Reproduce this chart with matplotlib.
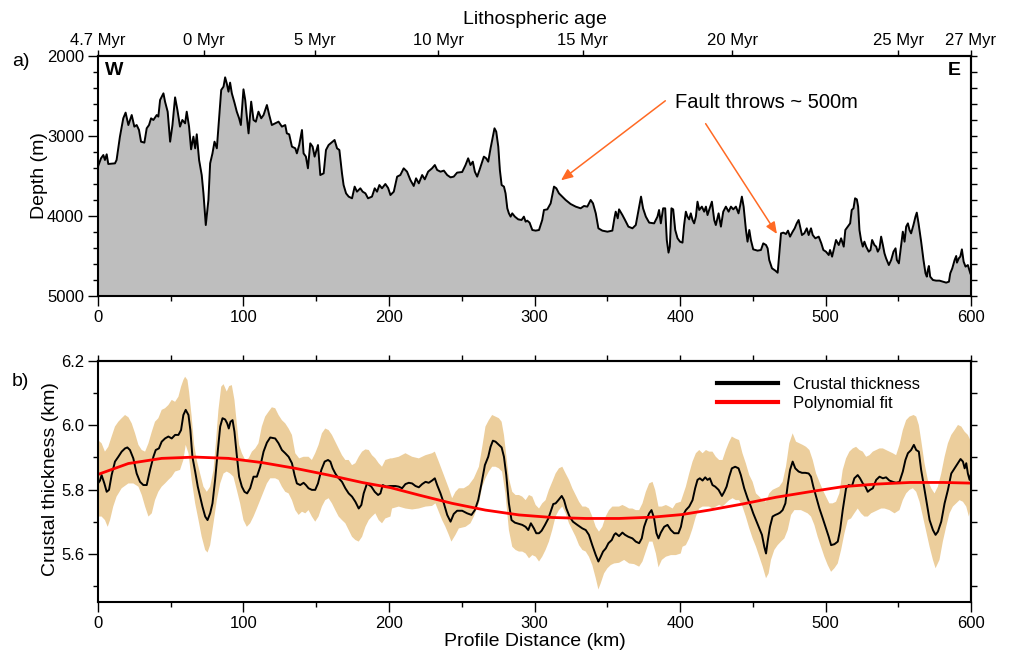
import numpy as np
import matplotlib
matplotlib.use("Agg")
import matplotlib.pyplot as plt
from matplotlib.ticker import MultipleLocator, FormatStrFormatter
from matplotlib.patches import FancyArrowPatch

plt.rcParams["font.family"] = ["Liberation Sans", "DejaVu Sans"]

# seafloor depth along the profile: (distance km, depth m)
depth_profile = [
    (0.0, 3383), (2.1, 3279), (3.7, 3238), (4.8, 3300), (6.0, 3229), (7.1, 3350), (11.7, 3342),
    (12.8, 3300), (15.1, 3008), (17.4, 2779), (19.0, 2708), (20.9, 2863), (23.2, 2738), (25.0, 2883),
    (26.6, 2863), (28.2, 2925), (29.6, 3071), (31.9, 3083), (33.5, 2904), (35.1, 2863), (36.5, 2779),
    (38.1, 2800), (40.4, 2738), (41.5, 2758), (42.7, 2550), (45.0, 2467), (46.1, 2571), (47.9, 2696),
    (49.6, 3071), (51.2, 2863), (53.0, 2517), (54.6, 2675), (56.4, 2883), (58.0, 2800), (59.9, 2842),
    (61.0, 2696), (62.6, 2883), (64.0, 3167), (65.6, 3008), (66.8, 3154), (67.9, 2979), (69.5, 3300),
    (71.3, 3488), (72.5, 3717), (74.1, 4113), (75.9, 3800), (77.1, 3342), (78.7, 3217), (80.1, 3071),
    (81.7, 3154), (83.3, 2758), (84.7, 2425), (86.3, 2383), (87.4, 2267), (88.5, 2342), (89.7, 2446),
    (90.8, 2333), (92.0, 2467), (93.8, 2583), (95.4, 2696), (97.0, 2779), (98.2, 2863), (100.0, 2417),
    (101.2, 2550), (102.3, 2758), (103.5, 2967), (105.3, 2571), (106.9, 2800), (108.5, 2821), (110.3, 2696),
    (112.2, 2779), (113.8, 2738), (116.1, 2613), (117.7, 2738), (119.5, 2863), (121.8, 2842), (124.1, 2821),
    (126.4, 2883), (128.7, 2863), (129.8, 2967), (131.4, 2979), (133.3, 3133), (135.6, 3154), (136.7, 3217),
    (138.3, 3113), (140.2, 2925), (141.3, 3217), (142.9, 3258), (144.3, 3404), (145.9, 3092), (147.5, 3133),
    (148.9, 3258), (151.2, 3113), (152.8, 3488), (155.1, 3467), (156.7, 3175), (158.5, 3113), (161.3, 3071),
    (162.6, 3050), (164.3, 3154), (165.9, 3175), (167.7, 3467), (168.8, 3613), (170.5, 3717), (172.3, 3758),
    (174.6, 3779), (176.4, 3633), (178.0, 3696), (180.3, 3654), (181.9, 3696), (183.8, 3717), (185.6, 3779),
    (188.3, 3758), (190.2, 3654), (191.8, 3696), (193.4, 3613), (195.2, 3654), (197.5, 3600), (199.4, 3650),
    (201.0, 3738), (203.3, 3696), (205.6, 3508), (207.8, 3488), (210.1, 3404), (212.4, 3446), (214.7, 3550),
    (217.0, 3625), (218.6, 3529), (220.5, 3592), (222.8, 3488), (224.6, 3542), (226.9, 3446), (229.6, 3404),
    (231.5, 3363), (233.1, 3425), (235.4, 3446), (237.7, 3433), (240.0, 3488), (242.3, 3517), (244.5, 3508),
    (246.8, 3458), (250.3, 3450), (252.6, 3363), (254.4, 3279), (256.0, 3363), (257.6, 3321), (259.0, 3446),
    (260.6, 3508), (262.2, 3425), (264.1, 3321), (265.2, 3258), (266.8, 3279), (268.2, 3321), (269.8, 3154),
    (271.4, 3008), (272.5, 2904), (273.7, 2946), (275.1, 3133), (276.2, 3425), (277.4, 3613), (279.0, 3633),
    (280.1, 3717), (281.3, 3904), (282.4, 3967), (283.6, 4008), (284.7, 3967), (286.5, 4008), (288.8, 4042),
    (291.1, 4050), (292.7, 4008), (293.9, 4071), (295.0, 4058), (296.6, 4083), (298.5, 4175), (300.8, 4183),
    (303.1, 4175), (305.3, 4050), (306.5, 3925), (308.8, 3917), (311.1, 3842), (313.4, 3633), (315.0, 3654),
    (316.8, 3717), (319.1, 3758), (321.4, 3800), (324.8, 3850), (328.3, 3883), (331.7, 3904), (334.0, 3875),
    (336.3, 3883), (338.6, 3800), (340.2, 3842), (342.1, 3967), (343.9, 4154), (346.6, 4183), (350.1, 4196),
    (353.5, 4183), (354.9, 4029), (355.8, 3946), (357.2, 4029), (358.1, 3917), (360.4, 3988), (362.2, 4050),
    (364.5, 4133), (367.3, 4154), (369.6, 4113), (371.9, 3883), (373.2, 3758), (374.6, 3904), (376.5, 4008),
    (378.8, 4083), (382.2, 4092), (384.5, 4008), (385.6, 3925), (386.8, 4092), (388.4, 3904), (389.8, 3904),
    (390.9, 4300), (392.1, 4458), (393.0, 4383), (394.1, 3904), (395.3, 3917), (396.7, 4175), (398.3, 4279),
    (400.0, 4321), (401.7, 4333), (402.8, 4113), (404.0, 3946), (405.1, 4008), (406.3, 4042), (407.4, 3967),
    (408.6, 4050), (409.7, 4092), (410.9, 4008), (412.0, 3821), (413.2, 3925), (415.0, 3883), (416.6, 3946),
    (417.8, 3883), (418.9, 3988), (420.0, 3925), (421.9, 3821), (423.5, 4050), (424.6, 4113), (426.5, 3967),
    (428.1, 4133), (429.7, 3946), (431.5, 3883), (433.4, 3946), (435.0, 3883), (436.6, 3917), (438.4, 3883),
    (440.2, 3967), (441.4, 3863), (442.5, 3758), (443.7, 3883), (445.3, 4175), (446.4, 4321), (447.6, 4175),
    (448.7, 4300), (450.3, 4417), (453.3, 4433), (455.6, 4425), (457.2, 4342), (459.1, 4363), (460.2, 4404),
    (461.3, 4550), (463.2, 4654), (465.5, 4683), (467.1, 4709), (468.2, 4467), (469.4, 4217), (471.0, 4208),
    (472.8, 4225), (474.2, 4183), (475.6, 4258), (477.4, 4196), (478.8, 4154), (480.2, 4092), (481.5, 4050),
    (482.5, 4133), (483.8, 4238), (485.4, 4217), (487.1, 4154), (488.4, 4238), (490.0, 4154), (491.2, 4238),
    (493.0, 4279), (495.3, 4258), (497.1, 4342), (498.5, 4425), (500.3, 4446), (502.2, 4488), (503.1, 4425),
    (504.5, 4508), (506.1, 4383), (507.2, 4300), (509.1, 4363), (510.7, 4279), (512.5, 4383), (513.6, 4175),
    (515.3, 4133), (516.9, 4092), (518.0, 3925), (519.2, 3904), (520.3, 3779), (521.5, 3792), (522.4, 3883),
    (523.3, 4175), (524.4, 4300), (525.6, 4383), (526.7, 4321), (527.9, 4383), (529.7, 4446), (530.9, 4425),
    (532.0, 4300), (533.6, 4363), (534.8, 4383), (535.9, 4446), (537.1, 4404), (538.2, 4258), (539.4, 4363),
    (540.5, 4467), (541.6, 4529), (543.5, 4613), (545.1, 4550), (546.7, 4446), (548.1, 4404), (549.0, 4550),
    (550.4, 4592), (552.0, 4363), (553.1, 4196), (554.3, 4321), (555.4, 4133), (556.6, 4092), (557.7, 4175),
    (558.8, 4217), (560.4, 4113), (561.8, 4008), (562.7, 3958), (563.9, 4092), (565.7, 4321), (567.3, 4550),
    (568.7, 4717), (569.6, 4758), (570.3, 4675), (571.0, 4625), (571.9, 4758), (573.8, 4800), (576.0, 4808),
    (578.3, 4808), (580.6, 4821), (582.9, 4833), (584.8, 4821), (585.7, 4717), (587.1, 4654), (588.7, 4550),
    (589.8, 4500), (590.3, 4583), (591.6, 4529), (592.6, 4508), (593.7, 4417), (594.9, 4571), (596.2, 4633),
    (597.8, 4613), (599.5, 4717), (600.0, 4738),
]

# crustal thickness along the profile: (distance km, thickness km)
thickness = [
    (0.0, 5.819), (1.4, 5.828), (2.5, 5.845), (4.4, 5.819), (6.0, 5.793), (7.6, 5.799), (9.4, 5.845),
    (11.7, 5.887), (14.0, 5.902), (16.3, 5.918), (18.6, 5.928), (20.2, 5.931), (22.0, 5.923), (24.3, 5.897),
    (26.6, 5.850), (28.9, 5.824), (31.2, 5.814), (33.5, 5.814), (35.8, 5.861), (38.1, 5.902), (39.7, 5.923),
    (41.9, 5.928), (43.8, 5.949), (46.1, 5.959), (48.4, 5.965), (50.7, 5.959), (53.0, 5.970), (55.3, 5.970),
    (57.1, 5.985), (58.7, 6.032), (60.3, 6.048), (62.2, 6.032), (63.5, 5.985), (64.9, 5.902), (66.8, 5.856),
    (68.6, 5.809), (70.2, 5.778), (71.8, 5.747), (73.7, 5.716), (75.3, 5.705), (77.1, 5.726), (78.7, 5.757),
    (80.5, 5.830), (82.4, 5.923), (84.0, 5.996), (85.6, 6.022), (87.4, 6.018), (88.8, 6.006), (89.9, 5.990),
    (91.1, 6.011), (92.5, 6.016), (93.8, 5.980), (95.4, 5.907), (97.0, 5.840), (98.9, 5.809), (100.7, 5.793),
    (102.5, 5.788), (104.6, 5.804), (106.9, 5.840), (109.2, 5.840), (111.5, 5.871), (113.8, 5.918),
    (116.1, 5.946), (118.4, 5.962), (121.8, 5.959), (124.1, 5.944), (126.4, 5.923), (128.7, 5.913),
    (131.0, 5.902), (133.3, 5.882), (135.1, 5.845), (136.7, 5.819), (139.0, 5.814), (141.3, 5.821),
    (142.9, 5.814), (144.7, 5.804), (147.0, 5.799), (149.3, 5.799), (151.2, 5.819), (153.5, 5.861),
    (155.8, 5.887), (158.1, 5.892), (159.7, 5.887), (161.3, 5.866), (163.1, 5.850), (164.9, 5.838),
    (167.7, 5.824), (170.0, 5.804), (172.3, 5.788), (174.6, 5.778), (176.9, 5.762), (179.2, 5.741),
    (181.0, 5.752), (182.6, 5.788), (184.9, 5.819), (187.9, 5.809), (190.2, 5.793), (192.5, 5.783),
    (194.1, 5.788), (195.7, 5.814), (198.0, 5.809), (201.0, 5.811), (204.4, 5.811), (206.7, 5.809),
    (209.0, 5.804), (211.3, 5.817), (213.6, 5.821), (215.9, 5.819), (218.2, 5.811), (220.5, 5.807),
    (222.8, 5.817), (225.1, 5.824), (227.3, 5.821), (229.6, 5.828), (231.5, 5.835), (233.1, 5.814),
    (235.4, 5.788), (237.7, 5.757), (240.0, 5.721), (242.3, 5.700), (244.5, 5.724), (246.8, 5.734),
    (250.3, 5.734), (253.7, 5.726), (256.7, 5.721), (259.0, 5.736), (261.3, 5.767), (263.6, 5.819),
    (265.9, 5.876), (268.2, 5.902), (269.8, 5.933), (271.4, 5.952), (273.2, 5.949), (275.5, 5.939),
    (277.4, 5.931), (279.0, 5.902), (280.6, 5.845), (282.4, 5.757), (284.2, 5.705), (286.5, 5.697),
    (289.3, 5.693), (291.6, 5.690), (293.9, 5.684), (295.7, 5.674), (297.5, 5.695), (299.6, 5.679),
    (301.2, 5.664), (303.1, 5.664), (304.9, 5.672), (307.2, 5.690), (309.5, 5.710), (311.1, 5.731),
    (312.9, 5.755), (314.5, 5.757), (316.4, 5.767), (318.7, 5.780), (320.3, 5.767), (321.9, 5.741),
    (324.1, 5.716), (326.4, 5.700), (329.4, 5.690), (332.9, 5.679), (335.2, 5.674), (337.4, 5.659),
    (339.7, 5.627), (342.1, 5.596), (343.9, 5.576), (345.5, 5.591), (347.1, 5.607), (349.0, 5.617),
    (350.8, 5.633), (353.1, 5.643), (354.7, 5.659), (355.8, 5.664), (358.1, 5.655), (360.4, 5.666),
    (362.2, 5.659), (364.5, 5.653), (367.3, 5.648), (369.6, 5.638), (371.9, 5.633), (373.7, 5.648),
    (375.3, 5.684), (376.9, 5.705), (378.8, 5.726), (380.4, 5.736), (382.2, 5.710), (383.8, 5.664),
    (385.2, 5.648), (386.8, 5.666), (389.1, 5.684), (391.4, 5.690), (393.7, 5.674), (396.0, 5.664),
    (398.9, 5.664), (400.6, 5.684), (402.2, 5.721), (404.0, 5.736), (406.3, 5.747), (408.6, 5.767),
    (410.4, 5.804), (412.0, 5.830), (413.6, 5.835), (415.5, 5.828), (417.3, 5.838), (418.9, 5.830),
    (420.5, 5.835), (422.3, 5.814), (424.2, 5.809), (426.5, 5.799), (428.8, 5.780), (430.4, 5.793),
    (432.0, 5.809), (433.8, 5.840), (435.6, 5.866), (437.9, 5.871), (440.2, 5.866), (441.8, 5.845),
    (444.1, 5.804), (446.4, 5.773), (448.7, 5.747), (450.3, 5.726), (452.2, 5.705), (454.5, 5.679),
    (456.3, 5.659), (457.9, 5.622), (459.1, 5.601), (460.2, 5.638), (461.8, 5.684), (463.6, 5.716),
    (465.5, 5.721), (467.1, 5.724), (468.7, 5.728), (470.5, 5.736), (472.4, 5.757), (474.0, 5.814),
    (475.6, 5.861), (477.4, 5.887), (479.2, 5.866), (481.5, 5.856), (483.8, 5.852), (486.1, 5.852),
    (488.4, 5.850), (490.0, 5.840), (491.6, 5.809), (493.5, 5.778), (495.8, 5.741), (498.1, 5.710),
    (500.3, 5.679), (502.2, 5.653), (503.8, 5.627), (506.1, 5.630), (508.4, 5.638), (510.0, 5.674),
    (511.8, 5.736), (514.1, 5.804), (515.9, 5.814), (518.2, 5.811), (519.8, 5.835), (522.1, 5.845),
    (523.7, 5.835), (525.6, 5.819), (527.4, 5.809), (529.0, 5.793), (530.6, 5.799), (532.5, 5.804),
    (534.8, 5.830), (537.1, 5.840), (539.4, 5.835), (541.6, 5.838), (543.9, 5.828), (546.2, 5.824),
    (548.5, 5.821), (550.8, 5.824), (553.1, 5.856), (554.9, 5.892), (556.6, 5.913), (558.8, 5.923),
    (560.7, 5.939), (562.3, 5.923), (564.1, 5.918), (565.7, 5.861), (567.3, 5.819), (569.2, 5.767),
    (571.5, 5.705), (573.8, 5.674), (575.6, 5.659), (577.2, 5.669), (579.5, 5.700), (581.8, 5.757),
    (584.1, 5.799), (586.4, 5.850), (588.7, 5.866), (591.0, 5.882), (592.8, 5.895), (594.4, 5.887),
    (595.6, 5.866), (596.7, 5.882), (597.8, 5.850), (599.0, 5.830), (600.0, 5.850),
]

# upper and lower edges of the thickness uncertainty band
band_upper = [
    (0.0, 5.954), (2.5, 5.944), (4.8, 5.918), (7.1, 5.933), (9.4, 5.965), (11.7, 5.996), (14.0, 6.011),
    (16.3, 6.022), (18.6, 6.032), (20.9, 6.025), (23.2, 6.006), (25.5, 5.975), (27.8, 5.939), (30.1, 5.923),
    (32.4, 5.918), (34.7, 5.944), (37.0, 5.980), (39.2, 6.011), (41.5, 6.022), (43.8, 6.048), (46.1, 6.053),
    (48.4, 6.063), (50.7, 6.079), (53.0, 6.073), (55.3, 6.089), (57.1, 6.120), (58.7, 6.141), (59.9, 6.151),
    (61.5, 6.141), (62.6, 6.105), (64.4, 6.027), (66.1, 5.939), (67.9, 5.892), (70.2, 5.850), (72.5, 5.809),
    (74.8, 5.793), (77.1, 5.809), (79.4, 5.861), (81.0, 5.944), (82.8, 6.048), (84.7, 6.120), (86.3, 6.128),
    (88.5, 6.105), (90.2, 6.122), (92.0, 6.125), (93.8, 6.079), (95.4, 6.006), (97.0, 5.939), (98.9, 5.913),
    (101.2, 5.892), (103.5, 5.897), (105.8, 5.918), (108.1, 5.928), (110.3, 5.944), (112.6, 5.996),
    (114.9, 6.027), (117.2, 6.042), (119.5, 6.056), (121.8, 6.053), (124.1, 6.032), (126.4, 6.016),
    (128.7, 6.006), (131.0, 5.990), (133.3, 5.970), (135.6, 5.913), (138.3, 5.897), (141.3, 5.902),
    (144.7, 5.902), (147.0, 5.892), (149.3, 5.913), (151.6, 5.939), (153.9, 5.975), (156.2, 5.990),
    (158.5, 5.985), (160.8, 5.970), (163.1, 5.949), (165.4, 5.928), (167.7, 5.907), (170.0, 5.892),
    (172.3, 5.892), (174.6, 5.876), (176.9, 5.882), (179.2, 5.902), (181.5, 5.918), (183.8, 5.925),
    (186.1, 5.923), (188.3, 5.907), (190.6, 5.897), (192.9, 5.882), (195.2, 5.871), (197.5, 5.892),
    (201.0, 5.897), (202.1, 5.897), (206.7, 5.902), (211.3, 5.913), (215.9, 5.902), (220.5, 5.897),
    (225.1, 5.907), (229.6, 5.913), (231.5, 5.918), (234.2, 5.887), (237.7, 5.845), (241.1, 5.804),
    (243.4, 5.773), (245.7, 5.793), (248.0, 5.804), (251.4, 5.804), (254.9, 5.814), (258.3, 5.835),
    (261.8, 5.871), (264.1, 5.933), (266.3, 5.996), (268.6, 6.016), (270.9, 6.032), (273.2, 6.027),
    (275.5, 6.022), (277.4, 6.011), (279.0, 5.970), (280.6, 5.907), (282.4, 5.835), (284.7, 5.793),
    (287.0, 5.783), (289.3, 5.783), (291.6, 5.778), (293.9, 5.767), (296.2, 5.783), (298.5, 5.778),
    (300.8, 5.752), (303.1, 5.741), (305.3, 5.757), (307.6, 5.767), (309.9, 5.799), (312.2, 5.824),
    (314.5, 5.850), (316.8, 5.866), (319.1, 5.871), (321.4, 5.850), (323.7, 5.830), (326.0, 5.804),
    (328.3, 5.783), (330.6, 5.762), (332.9, 5.747), (335.2, 5.747), (337.4, 5.741), (339.7, 5.716),
    (342.1, 5.684), (344.3, 5.669), (346.6, 5.684), (348.9, 5.716), (351.2, 5.736), (353.5, 5.747),
    (355.8, 5.747), (358.1, 5.747), (360.4, 5.752), (362.7, 5.747), (365.0, 5.741), (367.3, 5.741),
    (369.6, 5.736), (371.9, 5.736), (374.2, 5.757), (376.5, 5.793), (378.8, 5.819), (381.1, 5.824),
    (382.9, 5.799), (385.2, 5.747), (387.5, 5.747), (390.3, 5.752), (392.6, 5.747), (394.9, 5.741),
    (397.1, 5.757), (400.5, 5.762), (401.7, 5.778), (404.0, 5.809), (406.3, 5.850), (408.6, 5.887),
    (410.9, 5.913), (413.2, 5.923), (415.5, 5.913), (417.8, 5.923), (420.0, 5.918), (422.3, 5.918),
    (424.6, 5.902), (426.9, 5.892), (429.2, 5.892), (431.5, 5.923), (433.8, 5.949), (435.6, 5.965),
    (437.9, 5.959), (440.6, 5.954), (442.9, 5.913), (445.2, 5.882), (447.6, 5.845), (449.9, 5.824),
    (452.2, 5.788), (454.5, 5.778), (456.8, 5.767), (459.1, 5.762), (461.3, 5.788), (463.6, 5.799),
    (465.9, 5.804), (468.2, 5.809), (470.5, 5.824), (472.8, 5.871), (475.1, 5.944), (477.4, 5.975),
    (479.7, 5.949), (482.0, 5.944), (484.3, 5.939), (486.6, 5.933), (488.9, 5.923), (491.2, 5.892),
    (493.5, 5.850), (495.8, 5.824), (498.1, 5.799), (500.3, 5.778), (502.6, 5.757), (504.9, 5.757),
    (507.2, 5.762), (509.5, 5.788), (511.8, 5.861), (514.1, 5.897), (516.4, 5.918), (518.7, 5.928),
    (521.0, 5.933), (523.3, 5.923), (525.6, 5.918), (527.9, 5.902), (530.2, 5.907), (532.5, 5.918),
    (534.8, 5.923), (537.1, 5.928), (539.4, 5.928), (541.6, 5.923), (543.9, 5.918), (546.2, 5.913),
    (548.5, 5.907), (550.8, 5.939), (553.1, 5.985), (555.4, 6.016), (557.7, 6.027), (560.5, 6.032),
    (562.3, 6.027), (564.1, 6.001), (565.7, 5.954), (568.0, 5.882), (570.3, 5.830), (572.6, 5.804),
    (574.9, 5.788), (577.2, 5.809), (579.5, 5.850), (581.8, 5.902), (584.1, 5.944), (586.4, 5.970),
    (588.7, 5.985), (591.0, 6.001), (593.3, 5.996), (595.6, 5.980), (597.8, 5.970), (600.0, 5.949),
]

band_lower = [
    (0.0, 5.716), (2.5, 5.716), (4.8, 5.705), (6.7, 5.684), (8.3, 5.705), (10.5, 5.747), (12.8, 5.778),
    (16.3, 5.804), (20.9, 5.819), (24.3, 5.819), (27.8, 5.809), (30.1, 5.783), (32.4, 5.747), (34.7, 5.716),
    (37.0, 5.726), (39.2, 5.767), (41.5, 5.793), (43.8, 5.809), (46.1, 5.819), (48.4, 5.830), (50.7, 5.840),
    (53.0, 5.856), (56.4, 5.861), (58.7, 5.892), (60.3, 5.939), (62.2, 5.913), (64.4, 5.830), (66.8, 5.757),
    (69.1, 5.705), (71.3, 5.653), (73.7, 5.612), (75.3, 5.604), (77.1, 5.627), (79.4, 5.695), (81.7, 5.767),
    (84.0, 5.819), (86.3, 5.850), (88.5, 5.856), (90.8, 5.850), (93.1, 5.840), (95.4, 5.799), (97.7, 5.757),
    (100.0, 5.705), (102.3, 5.684), (104.6, 5.695), (106.9, 5.716), (109.2, 5.741), (111.5, 5.767),
    (113.8, 5.793), (116.1, 5.819), (118.4, 5.835), (121.8, 5.835), (124.1, 5.830), (126.4, 5.809),
    (128.7, 5.793), (131.0, 5.788), (133.3, 5.767), (135.6, 5.736), (137.9, 5.721), (140.2, 5.731),
    (142.5, 5.726), (144.7, 5.736), (147.0, 5.716), (149.3, 5.700), (151.6, 5.716), (153.9, 5.747),
    (156.2, 5.767), (158.5, 5.773), (160.8, 5.757), (163.1, 5.736), (165.4, 5.716), (167.7, 5.705),
    (170.0, 5.695), (172.3, 5.674), (174.6, 5.653), (176.9, 5.643), (179.2, 5.638), (181.5, 5.653),
    (183.8, 5.684), (186.1, 5.705), (188.3, 5.716), (190.6, 5.726), (192.9, 5.705), (195.2, 5.695),
    (197.5, 5.710), (201.0, 5.716), (202.1, 5.741), (206.7, 5.747), (211.3, 5.741), (215.9, 5.738),
    (220.5, 5.741), (225.1, 5.747), (229.6, 5.749), (231.9, 5.757), (234.2, 5.731), (236.5, 5.705),
    (238.8, 5.684), (241.1, 5.659), (242.9, 5.638), (245.7, 5.659), (248.0, 5.679), (252.6, 5.684),
    (256.0, 5.695), (258.3, 5.716), (261.8, 5.757), (264.1, 5.809), (266.3, 5.835), (268.6, 5.856),
    (270.9, 5.871), (273.2, 5.871), (275.5, 5.866), (277.7, 5.856), (280.0, 5.788), (282.4, 5.674),
    (284.7, 5.622), (287.0, 5.612), (289.3, 5.607), (291.6, 5.607), (293.9, 5.601), (296.2, 5.586),
    (298.5, 5.596), (300.8, 5.591), (303.1, 5.576), (305.3, 5.591), (307.6, 5.612), (309.9, 5.638),
    (312.2, 5.674), (314.5, 5.716), (316.8, 5.736), (319.1, 5.747), (321.4, 5.726), (323.7, 5.695),
    (326.0, 5.674), (328.3, 5.653), (330.6, 5.627), (332.9, 5.612), (335.2, 5.607), (337.4, 5.591),
    (339.7, 5.565), (342.1, 5.524), (343.9, 5.489), (345.5, 5.508), (347.8, 5.539), (350.1, 5.555),
    (352.4, 5.565), (354.7, 5.570), (358.1, 5.572), (361.6, 5.581), (365.0, 5.570), (368.4, 5.568),
    (371.9, 5.560), (374.2, 5.576), (376.5, 5.607), (378.8, 5.638), (381.1, 5.638), (383.4, 5.601),
    (385.2, 5.558), (387.5, 5.581), (390.3, 5.591), (393.7, 5.596), (397.1, 5.596), (400.5, 5.601),
    (401.7, 5.622), (404.0, 5.627), (406.3, 5.648), (408.6, 5.679), (410.9, 5.716), (413.2, 5.741),
    (415.5, 5.747), (417.8, 5.747), (420.0, 5.747), (422.3, 5.741), (424.6, 5.747), (426.9, 5.752),
    (429.2, 5.747), (431.5, 5.757), (433.8, 5.767), (436.1, 5.773), (438.4, 5.767), (440.6, 5.767),
    (442.9, 5.747), (445.2, 5.716), (447.6, 5.679), (449.9, 5.648), (452.2, 5.622), (454.5, 5.591),
    (456.8, 5.560), (459.1, 5.524), (460.9, 5.539), (462.5, 5.581), (464.8, 5.612), (467.1, 5.627),
    (469.4, 5.638), (471.7, 5.648), (474.0, 5.674), (476.3, 5.721), (478.6, 5.736), (480.9, 5.736),
    (483.1, 5.736), (485.4, 5.731), (487.7, 5.726), (490.0, 5.716), (492.3, 5.690), (494.6, 5.653),
    (496.9, 5.622), (499.2, 5.591), (501.5, 5.565), (503.8, 5.544), (506.1, 5.555), (508.4, 5.570),
    (510.7, 5.612), (513.0, 5.664), (515.3, 5.705), (517.5, 5.710), (519.8, 5.726), (522.1, 5.741),
    (524.4, 5.726), (526.7, 5.716), (529.0, 5.716), (531.3, 5.726), (533.6, 5.731), (535.9, 5.736),
    (538.2, 5.741), (540.5, 5.741), (543.9, 5.736), (547.4, 5.726), (550.8, 5.736), (553.1, 5.767),
    (555.4, 5.788), (557.7, 5.799), (560.0, 5.804), (562.3, 5.793), (564.6, 5.762), (566.9, 5.716),
    (569.2, 5.669), (571.5, 5.622), (573.8, 5.581), (575.6, 5.555), (578.3, 5.581), (580.6, 5.638),
    (582.9, 5.684), (585.2, 5.726), (587.5, 5.747), (589.8, 5.757), (592.1, 5.767), (594.4, 5.762),
    (596.7, 5.747), (598.5, 5.716), (600.0, 5.747),
]

# polynomial fit to the crustal thickness
poly_fit = [
    (0.0, 5.847), (20.9, 5.881), (43.8, 5.897), (66.8, 5.901), (89.7, 5.897), (112.6, 5.884),
    (135.6, 5.866), (158.5, 5.845), (181.5, 5.822), (201.0, 5.806), (220.4, 5.783), (243.4, 5.757),
    (266.3, 5.736), (289.3, 5.721), (312.2, 5.713), (335.2, 5.710), (358.1, 5.710), (381.0, 5.714),
    (401.0, 5.722), (420.0, 5.736), (443.0, 5.755), (466.0, 5.776), (489.0, 5.793), (512.0, 5.809),
    (535.0, 5.817), (558.0, 5.822), (581.0, 5.822), (600.0, 5.820),
]

# lithospheric age annotations along the top axis (distance km)
age_km = [0, 73, 149, 234, 333, 436, 550, 600]
age_labels = ["4.7 Myr", "0 Myr", "5 Myr", "10 Myr", "15 Myr", "20 Myr", "25 Myr", "27 Myr"]

d_km, d_m = np.array(depth_profile).T
t_km, t_val = np.array(thickness).T
u_km, u_val = np.array(band_upper).T
l_km, l_val = np.array(band_lower).T
f_km, f_val = np.array(poly_fit).T

TICK_FS = 12
LABEL_FS = 14
ORANGE = "#ff6a24"

fig = plt.figure(figsize=(10.13, 6.54), dpi=100)
ax1 = fig.add_axes([0.0967, 0.5474, 0.8619, 0.3670])
ax2 = fig.add_axes([0.0967, 0.0795, 0.8619, 0.3685])


def style_frame(ax):
    for sp in ax.spines.values():
        sp.set_linewidth(1.5)
    ax.tick_params(which="both", direction="out", width=1.0, labelsize=TICK_FS,
                   top=False, right=False)
    ax.tick_params(which="major", length=7, pad=3)
    ax.tick_params(which="minor", length=3.5)
    ax.xaxis.set_major_locator(MultipleLocator(100))
    ax.xaxis.set_minor_locator(MultipleLocator(50))
    ax.set_xlim(0, 600)


# --- a) bathymetry ---
style_frame(ax1)
ax1.fill_between(d_km, d_m, 5000, color="#bebebe", lw=0)
ax1.plot(d_km, d_m, color="black", lw=1.4)
ax1.set_ylim(5000, 2000)
ax1.yaxis.set_major_locator(MultipleLocator(1000))
ax1.yaxis.set_minor_locator(MultipleLocator(200))
ax1.set_ylabel("Depth (m)", fontsize=LABEL_FS)
ax1.yaxis.set_label_coords(-0.057, 0.5)

top = ax1.secondary_xaxis("top")
top.set_xticks(age_km, labels=age_labels)
top.tick_params(direction="out", length=4, width=1.0, labelsize=TICK_FS, pad=2)
top.spines["top"].set_linewidth(1.5)
top.set_xlabel("Lithospheric age", fontsize=LABEL_FS, labelpad=6)

right1 = ax1.secondary_yaxis("right")
right1.yaxis.set_major_locator(MultipleLocator(1000))
right1.yaxis.set_minor_locator(MultipleLocator(200))
right1.tick_params(which="both", direction="out", length=4, width=1.0, labelright=False)
right1.spines["right"].set_linewidth(1.5)

ax1.text(0.008, 0.975, "W", transform=ax1.transAxes, fontsize=14, fontweight="bold",
         ha="left", va="top")
ax1.text(0.988, 0.975, "E", transform=ax1.transAxes, fontsize=14, fontweight="bold",
         ha="right", va="top")

ax1.text(396.3, 2581, "Fault throws ~ 500m", fontsize=14.5, ha="left", va="center")
for start, tip in [((389.9, 2560), (318.2, 3554)), ((417.6, 2846), (466.6, 4225))]:
    ax1.add_patch(FancyArrowPatch(start, tip, arrowstyle="-|>,head_length=7,head_width=3",
                                  color=ORANGE, lw=1.1, shrinkA=0, shrinkB=0))

# --- b) crustal thickness ---
style_frame(ax2)
ax2.fill(np.concatenate([u_km, l_km[::-1]]), np.concatenate([u_val, l_val[::-1]]),
         color="#ecce9c", lw=0)
ax2.plot(t_km, t_val, color="black", lw=1.4, label="Crustal thickness")
ax2.plot(f_km, f_val, color="#ff0000", lw=2.0, label="Polynomial fit")
ax2.set_ylim(5.45, 6.2)
ax2.yaxis.set_major_locator(MultipleLocator(0.2))
ax2.yaxis.set_minor_locator(MultipleLocator(0.1))
ax2.yaxis.set_major_formatter(FormatStrFormatter("%.1f"))
ax2.set_ylabel("Crustal thickness (km)", fontsize=LABEL_FS)
ax2.yaxis.set_label_coords(-0.045, 0.51)
ax2.set_xlabel("Profile Distance (km)", fontsize=LABEL_FS)
ax2.xaxis.set_label_coords(0.5, -0.13)

top2 = ax2.secondary_xaxis("top")
top2.xaxis.set_major_locator(MultipleLocator(100))
top2.xaxis.set_minor_locator(MultipleLocator(50))
top2.tick_params(which="both", direction="out", length=4, width=1.0, labeltop=False)
top2.spines["top"].set_linewidth(1.5)

right2 = ax2.secondary_yaxis("right")
right2.yaxis.set_major_locator(MultipleLocator(0.2))
right2.yaxis.set_minor_locator(MultipleLocator(0.1))
right2.tick_params(which="both", direction="out", length=4, width=1.0, labelright=False)
right2.spines["right"].set_linewidth(1.5)

leg = ax2.legend(loc="upper left", bbox_to_anchor=(0.705, 0.948), frameon=False,
                 fontsize=12, handlelength=3.7, handletextpad=0.9, labelspacing=0.25,
                 borderaxespad=0, borderpad=0.2)
for line in leg.get_lines():
    line.set_linewidth(3.0)

fig.text(12 / 1013, 1 - 62 / 654, "a)", fontsize=LABEL_FS, ha="left", va="center")
fig.text(12 / 1013, 1 - 382 / 654, "b)", fontsize=LABEL_FS, ha="left", va="center")

fig.savefig("out.png", dpi=100)
